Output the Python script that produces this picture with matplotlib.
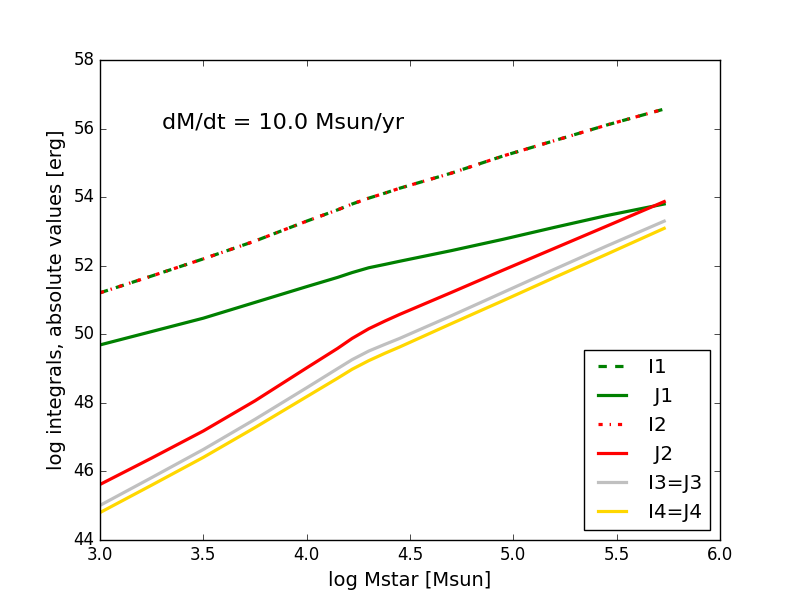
import matplotlib
matplotlib.use("Agg")
import matplotlib.pyplot as plt

plt.style.use("classic")
plt.rcParams["lines.scale_dashes"] = False

log_mstar = [3.0, 3.25, 3.5, 3.75, 4.0, 4.15, 4.22, 4.3, 4.38, 4.45, 4.7, 4.95, 5.2, 5.45, 5.73]
I1 = [51.21, 51.70, 52.20, 52.72, 53.30, 53.63, 53.80, 53.97, 54.12, 54.26, 54.70, 55.20, 55.65, 56.10, 56.57]
J1 = [49.69, 50.08, 50.47, 50.93, 51.39, 51.66, 51.80, 51.94, 52.04, 52.13, 52.44, 52.77, 53.12, 53.46, 53.80]
I2 = I1
J2 = [45.62, 46.39, 47.18, 48.06, 49.02, 49.59, 49.88, 50.16, 50.39, 50.58, 51.22, 51.87, 52.51, 53.15, 53.87]
I3 = [45.01, 45.82, 46.64, 47.52, 48.44, 49.00, 49.26, 49.51, 49.71, 49.88, 50.54, 51.22, 51.90, 52.57, 53.30]
I4 = [44.80, 45.60, 46.41, 47.28, 48.18, 48.72, 48.98, 49.23, 49.45, 49.63, 50.31, 50.98, 51.66, 52.33, 53.09]

labels = ["I1", " J1", "I2", " J2", "I3=J3", "I4=J4"]
annotation = "dM/dt = 10.0 Msun/yr"

fig = plt.figure(figsize=(8, 6), dpi=100)
ax = fig.add_axes([0.125, 0.1, 0.775, 0.8])
lw = 2.3
ax.plot(log_mstar, I1, color="g", ls=(0, (6, 6)), lw=lw, label=labels[0])
ax.plot(log_mstar, J1, color="g", ls="-", lw=lw, label=labels[1])
ax.plot(log_mstar, I2, color="r", ls=(0, (3, 5, 1, 5)), lw=lw, label=labels[2])
ax.plot(log_mstar, J2, color="r", ls="-", lw=lw, label=labels[3])
ax.plot(log_mstar, I3, color="silver", ls="-", lw=lw, label=labels[4])
ax.plot(log_mstar, I4, color="gold", ls="-", lw=lw, label=labels[5])

ax.set_xlim(3.0, 6.0)
ax.set_ylim(44, 58)
ax.set_xlabel("log Mstar [Msun]", fontsize=14)
ax.set_ylabel("log integrals, absolute values [erg]", fontsize=14)
ax.text(3.3, 56.0, annotation, fontsize=16)
ax.legend(loc="lower right", fontsize=14.4, handlelength=2.0, handletextpad=0.8)

fig.savefig("out.png", dpi=100)
